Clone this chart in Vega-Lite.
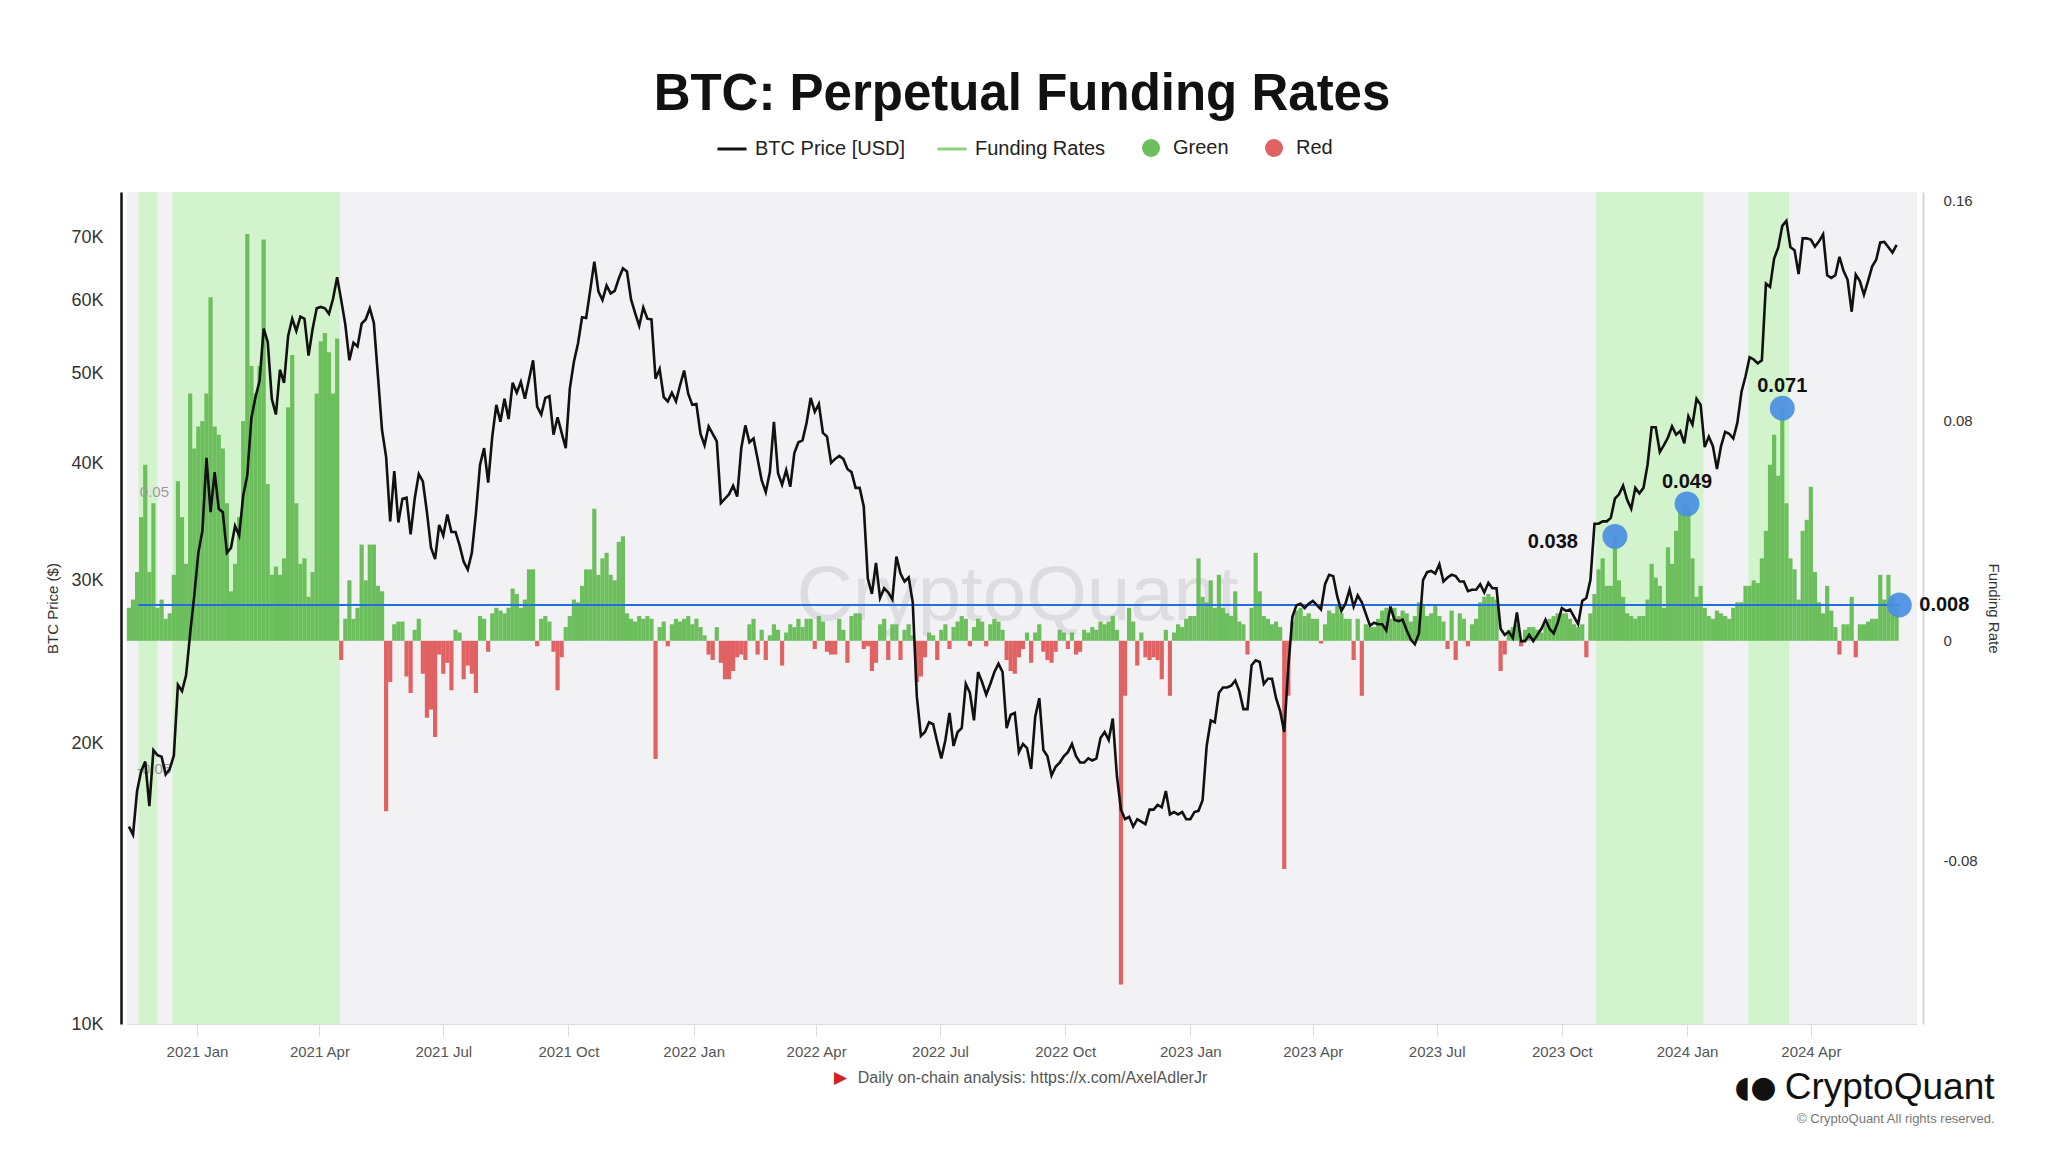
{
  "$schema": "https://vega.github.io/schema/vega-lite/v6.json",
  "width": 1790,
  "height": 832,
  "autosize": {"type": "none"},
  "padding": {"left": 127, "top": 192, "right": 131, "bottom": 128},
  "background": "#ffffff",
  "config": {
    "font": "Liberation Sans",
    "view": {"stroke": null, "fill": "#f2f2f4"},
    "axis": {"grid": false}
  },
  "title": {"text": "BTC: Perpetual Funding Rates", "fontSize": 51, "fontWeight": "bold", "color": "#111111", "anchor": "middle", "frame": "group", "offset": 12, "font": "Liberation Sans"},
  "datasets": {
    "ts": [
{"d":"2020-11-12","p":16300,"f":0.012},{"d":"2020-11-15","p":15980,"f":0.015},{"d":"2020-11-18","p":17800,"f":0.025},{"d":"2020-11-21","p":18700,"f":0.045},{"d":"2020-11-24","p":19150,"f":0.064},{"d":"2020-11-27","p":17150,"f":0.025},{"d":"2020-11-30","p":19700,"f":0.05},
{"d":"2020-12-03","p":19450,"f":0.012},{"d":"2020-12-06","p":19380,"f":0.015},{"d":"2020-12-09","p":18550,"f":0.008},{"d":"2020-12-12","p":18800,"f":0.01},{"d":"2020-12-15","p":19430,"f":0.024},{"d":"2020-12-18","p":23150,"f":0.058},{"d":"2020-12-21","p":22800,"f":0.045},{"d":"2020-12-24","p":23700,"f":0.028},{"d":"2020-12-27","p":26300,"f":0.09},{"d":"2020-12-30","p":28850,"f":0.07},
{"d":"2021-01-02","p":32100,"f":0.078},{"d":"2021-01-05","p":33900,"f":0.08},{"d":"2021-01-08","p":40600,"f":0.09},{"d":"2021-01-11","p":35500,"f":0.125},{"d":"2021-01-14","p":39200,"f":0.078},{"d":"2021-01-17","p":35800,"f":0.075},{"d":"2021-01-20","p":35500,"f":0.07},{"d":"2021-01-23","p":32100,"f":0.05},{"d":"2021-01-26","p":32500,"f":0.018},{"d":"2021-01-29","p":34300,"f":0.028},
{"d":"2021-02-01","p":33500,"f":0.045},{"d":"2021-02-04","p":37000,"f":0.08},{"d":"2021-02-07","p":38900,"f":0.148},{"d":"2021-02-10","p":44800,"f":0.1},{"d":"2021-02-13","p":47200,"f":0.09},{"d":"2021-02-16","p":49100,"f":0.1},{"d":"2021-02-19","p":55900,"f":0.146},{"d":"2021-02-22","p":54100,"f":0.057},{"d":"2021-02-25","p":47000,"f":0.024},{"d":"2021-02-28","p":45200,"f":0.027},
{"d":"2021-03-03","p":50500,"f":0.024},{"d":"2021-03-06","p":48900,"f":0.03},{"d":"2021-03-09","p":54900,"f":0.085},{"d":"2021-03-12","p":57300,"f":0.104},{"d":"2021-03-15","p":55600,"f":0.05},{"d":"2021-03-18","p":57600,"f":0.028},{"d":"2021-03-21","p":57300,"f":0.03},{"d":"2021-03-24","p":52300,"f":0.016},{"d":"2021-03-27","p":55900,"f":0.025},{"d":"2021-03-30","p":58800,"f":0.09},
{"d":"2021-04-02","p":59000,"f":0.109},{"d":"2021-04-05","p":58800,"f":0.112},{"d":"2021-04-08","p":58000,"f":0.105},{"d":"2021-04-11","p":60200,"f":0.09},{"d":"2021-04-14","p":63500,"f":0.11},{"d":"2021-04-17","p":60000,"f":-0.007},{"d":"2021-04-20","p":56500,"f":0.008},{"d":"2021-04-23","p":51700,"f":0.022},{"d":"2021-04-26","p":54000,"f":0.008},{"d":"2021-04-29","p":53500,"f":0.012},
{"d":"2021-05-02","p":56600,"f":0.035},{"d":"2021-05-05","p":57200,"f":0.022},{"d":"2021-05-08","p":58800,"f":0.035},{"d":"2021-05-11","p":56700,"f":0.035},{"d":"2021-05-14","p":49700,"f":0.02},{"d":"2021-05-17","p":43500,"f":0.018},{"d":"2021-05-20","p":40700,"f":-0.062},{"d":"2021-05-23","p":34700,"f":-0.015},{"d":"2021-05-26","p":39300,"f":0.006},{"d":"2021-05-29","p":34600,"f":0.007},
{"d":"2021-06-01","p":36700,"f":0.007},{"d":"2021-06-04","p":36800,"f":-0.013},{"d":"2021-06-07","p":33600,"f":-0.019},{"d":"2021-06-10","p":36700,"f":0.004},{"d":"2021-06-13","p":39000,"f":0.008},{"d":"2021-06-16","p":38300,"f":-0.012},{"d":"2021-06-19","p":35500,"f":-0.028},{"d":"2021-06-22","p":32500,"f":-0.025},{"d":"2021-06-25","p":31600,"f":-0.035},{"d":"2021-06-28","p":34400,"f":-0.005},
{"d":"2021-07-01","p":33500,"f":-0.012},{"d":"2021-07-04","p":35300,"f":-0.008},{"d":"2021-07-07","p":33800,"f":-0.018},{"d":"2021-07-10","p":33800,"f":0.004},{"d":"2021-07-13","p":32700,"f":0.003},{"d":"2021-07-16","p":31400,"f":-0.014},{"d":"2021-07-19","p":30800,"f":-0.009},{"d":"2021-07-22","p":32100,"f":-0.012},{"d":"2021-07-25","p":35400,"f":-0.019},{"d":"2021-07-28","p":39900,"f":0.009},{"d":"2021-07-31","p":41600,"f":0.008},
{"d":"2021-08-03","p":38200,"f":-0.004},{"d":"2021-08-06","p":42800,"f":0.01},{"d":"2021-08-09","p":46300,"f":0.012},{"d":"2021-08-12","p":44400,"f":0.011},{"d":"2021-08-15","p":47000,"f":0.01},{"d":"2021-08-18","p":44700,"f":0.012},{"d":"2021-08-21","p":48900,"f":0.019},{"d":"2021-08-24","p":47700,"f":0.017},{"d":"2021-08-27","p":49000,"f":0.012},{"d":"2021-08-30","p":47000,"f":0.015},
{"d":"2021-09-02","p":49300,"f":0.026},{"d":"2021-09-05","p":51700,"f":0.026},{"d":"2021-09-08","p":46100,"f":-0.002},{"d":"2021-09-11","p":45200,"f":0.008},{"d":"2021-09-14","p":47100,"f":0.009},{"d":"2021-09-17","p":47300,"f":0.007},{"d":"2021-09-20","p":43000,"f":-0.004},{"d":"2021-09-23","p":44900,"f":-0.018},{"d":"2021-09-26","p":43200,"f":-0.006},{"d":"2021-09-29","p":41600,"f":0.005},
{"d":"2021-10-02","p":48200,"f":0.009},{"d":"2021-10-05","p":51500,"f":0.015},{"d":"2021-10-08","p":53900,"f":0.014},{"d":"2021-10-11","p":57500,"f":0.02},{"d":"2021-10-14","p":57400,"f":0.026},{"d":"2021-10-17","p":61500,"f":0.026},{"d":"2021-10-20","p":66000,"f":0.048},{"d":"2021-10-23","p":61300,"f":0.024},{"d":"2021-10-26","p":60000,"f":0.03},{"d":"2021-10-29","p":62200,"f":0.032},
{"d":"2021-11-01","p":61000,"f":0.024},{"d":"2021-11-04","p":61400,"f":0.022},{"d":"2021-11-07","p":63300,"f":0.036},{"d":"2021-11-10","p":64900,"f":0.038},{"d":"2021-11-13","p":64400,"f":0.01},{"d":"2021-11-16","p":60100,"f":0.008},{"d":"2021-11-19","p":58100,"f":0.007},{"d":"2021-11-22","p":56300,"f":0.009},{"d":"2021-11-25","p":58900,"f":0.008},{"d":"2021-11-28","p":57300,"f":0.009},
{"d":"2021-12-01","p":57200,"f":0.008},{"d":"2021-12-04","p":49400,"f":-0.043},{"d":"2021-12-07","p":50600,"f":0.005},{"d":"2021-12-10","p":47200,"f":0.007},{"d":"2021-12-13","p":46700,"f":-0.002},{"d":"2021-12-16","p":47700,"f":0.006},{"d":"2021-12-19","p":46700,"f":0.008},{"d":"2021-12-22","p":48600,"f":0.007},{"d":"2021-12-25","p":50400,"f":0.008},{"d":"2021-12-28","p":47600,"f":0.009},{"d":"2021-12-31","p":46300,"f":0.006},
{"d":"2022-01-03","p":46400,"f":0.008},{"d":"2022-01-06","p":43100,"f":0.005},{"d":"2022-01-09","p":41900,"f":0.002},{"d":"2022-01-12","p":43900,"f":-0.005},{"d":"2022-01-15","p":43100,"f":-0.007},{"d":"2022-01-18","p":42300,"f":0.005},{"d":"2022-01-21","p":36300,"f":-0.008},{"d":"2022-01-24","p":36700,"f":-0.014},{"d":"2022-01-27","p":37100,"f":-0.014},{"d":"2022-01-30","p":37900,"f":-0.011},
{"d":"2022-02-02","p":36900,"f":-0.006},{"d":"2022-02-05","p":41600,"f":-0.005},{"d":"2022-02-08","p":44000,"f":-0.007},{"d":"2022-02-11","p":42200,"f":0.006},{"d":"2022-02-14","p":42600,"f":0.008},{"d":"2022-02-17","p":40500,"f":-0.005},{"d":"2022-02-20","p":38400,"f":0.004},{"d":"2022-02-23","p":37300,"f":-0.007},{"d":"2022-02-26","p":39200,"f":0.002},
{"d":"2022-03-01","p":44400,"f":0.006},{"d":"2022-03-04","p":39100,"f":0.004},{"d":"2022-03-07","p":38000,"f":-0.009},{"d":"2022-03-10","p":39400,"f":0.003},{"d":"2022-03-13","p":37800,"f":0.006},{"d":"2022-03-16","p":41100,"f":0.005},{"d":"2022-03-19","p":42200,"f":0.008},{"d":"2022-03-22","p":42400,"f":0.005},{"d":"2022-03-25","p":44300,"f":0.008},{"d":"2022-03-28","p":47100,"f":0.008},{"d":"2022-03-31","p":45500,"f":-0.003},
{"d":"2022-04-03","p":46400,"f":0.009},{"d":"2022-04-06","p":43200,"f":0.007},{"d":"2022-04-09","p":42800,"f":-0.004},{"d":"2022-04-12","p":40100,"f":-0.005},{"d":"2022-04-15","p":40500,"f":-0.005},{"d":"2022-04-18","p":40800,"f":0.008},{"d":"2022-04-21","p":40500,"f":0.004},{"d":"2022-04-24","p":39500,"f":-0.008},{"d":"2022-04-27","p":39200,"f":0.009},{"d":"2022-04-30","p":37700,"f":0.01},
{"d":"2022-05-03","p":37700,"f":0.01},{"d":"2022-05-06","p":36000,"f":-0.003},{"d":"2022-05-09","p":30100,"f":-0.002},{"d":"2022-05-12","p":29000,"f":-0.011},{"d":"2022-05-15","p":31300,"f":-0.008},{"d":"2022-05-18","p":28700,"f":0.006},{"d":"2022-05-21","p":29400,"f":0.008},{"d":"2022-05-24","p":29100,"f":-0.007},{"d":"2022-05-27","p":28600,"f":0.006},{"d":"2022-05-30","p":31800,"f":0.006},
{"d":"2022-06-02","p":30500,"f":-0.007},{"d":"2022-06-05","p":29900,"f":0.004},{"d":"2022-06-08","p":30200,"f":0.006},{"d":"2022-06-11","p":28400,"f":0.002},{"d":"2022-06-14","p":22500,"f":-0.015},{"d":"2022-06-17","p":20400,"f":-0.013},{"d":"2022-06-20","p":20600,"f":-0.006},{"d":"2022-06-23","p":21100,"f":0.003},{"d":"2022-06-26","p":21000,"f":0.002},{"d":"2022-06-29","p":20100,"f":-0.007},
{"d":"2022-07-02","p":19300,"f":0.004},{"d":"2022-07-05","p":20200,"f":0.006},{"d":"2022-07-08","p":21600,"f":-0.003},{"d":"2022-07-11","p":19900,"f":0.005},{"d":"2022-07-14","p":20600,"f":0.007},{"d":"2022-07-17","p":20800,"f":0.009},{"d":"2022-07-20","p":23200,"f":0.008},{"d":"2022-07-23","p":22700,"f":-0.002},{"d":"2022-07-26","p":21200,"f":0.005},{"d":"2022-07-29","p":23900,"f":0.008},
{"d":"2022-08-01","p":23300,"f":0.007},{"d":"2022-08-04","p":22600,"f":-0.002},{"d":"2022-08-07","p":23200,"f":0.006},{"d":"2022-08-10","p":23900,"f":0.008},{"d":"2022-08-13","p":24400,"f":0.007},{"d":"2022-08-16","p":23900,"f":0.004},{"d":"2022-08-19","p":20800,"f":-0.007},{"d":"2022-08-22","p":21500,"f":-0.011},{"d":"2022-08-25","p":21600,"f":-0.012},{"d":"2022-08-28","p":19600,"f":-0.006},{"d":"2022-08-31","p":20000,"f":-0.003},
{"d":"2022-09-03","p":19800,"f":0.003},{"d":"2022-09-06","p":18800,"f":-0.008},{"d":"2022-09-09","p":21400,"f":0.003},{"d":"2022-09-12","p":22400,"f":0.006},{"d":"2022-09-15","p":19700,"f":-0.004},{"d":"2022-09-18","p":19400,"f":-0.007},{"d":"2022-09-21","p":18500,"f":-0.008},{"d":"2022-09-24","p":18900,"f":-0.004},{"d":"2022-09-27","p":19100,"f":0.004},{"d":"2022-09-30","p":19400,"f":0.003},
{"d":"2022-10-03","p":19600,"f":-0.003},{"d":"2022-10-06","p":20000,"f":0.003},{"d":"2022-10-09","p":19400,"f":-0.005},{"d":"2022-10-12","p":19100,"f":-0.004},{"d":"2022-10-15","p":19100,"f":0.004},{"d":"2022-10-18","p":19300,"f":0.003},{"d":"2022-10-21","p":19200,"f":0.005},{"d":"2022-10-24","p":19300,"f":0.004},{"d":"2022-10-27","p":20300,"f":0.007},{"d":"2022-10-30","p":20600,"f":0.006},
{"d":"2022-11-02","p":20200,"f":0.007},{"d":"2022-11-05","p":21300,"f":0.009},{"d":"2022-11-08","p":18500,"f":0.004},{"d":"2022-11-11","p":17000,"f":-0.125},{"d":"2022-11-14","p":16600,"f":-0.02},{"d":"2022-11-17","p":16700,"f":0.012},{"d":"2022-11-20","p":16300,"f":0.007},{"d":"2022-11-23","p":16600,"f":-0.009},{"d":"2022-11-26","p":16500,"f":0.003},{"d":"2022-11-29","p":16400,"f":-0.006},
{"d":"2022-12-02","p":17000,"f":-0.007},{"d":"2022-12-05","p":17000,"f":-0.006},{"d":"2022-12-08","p":17200,"f":-0.007},{"d":"2022-12-11","p":17100,"f":-0.014},{"d":"2022-12-14","p":17800,"f":0.004},{"d":"2022-12-17","p":16800,"f":-0.02},{"d":"2022-12-20","p":16900,"f":0.003},{"d":"2022-12-23","p":16800,"f":0.006},{"d":"2022-12-26","p":16900,"f":0.005},{"d":"2022-12-29","p":16600,"f":0.008},
{"d":"2023-01-01","p":16600,"f":0.009},{"d":"2023-01-04","p":16900,"f":0.009},{"d":"2023-01-07","p":16950,"f":0.03},{"d":"2023-01-10","p":17400,"f":0.016},{"d":"2023-01-13","p":19900,"f":0.014},{"d":"2023-01-16","p":21200,"f":0.022},{"d":"2023-01-19","p":21100,"f":0.012},{"d":"2023-01-22","p":22700,"f":0.024},{"d":"2023-01-25","p":23000,"f":0.012},{"d":"2023-01-28","p":23000,"f":0.01},{"d":"2023-01-31","p":23100,"f":0.009},
{"d":"2023-02-03","p":23400,"f":0.018},{"d":"2023-02-06","p":22800,"f":0.007},{"d":"2023-02-09","p":21800,"f":0.006},{"d":"2023-02-12","p":21800,"f":-0.005},{"d":"2023-02-15","p":24300,"f":0.012},{"d":"2023-02-18","p":24600,"f":0.032},{"d":"2023-02-21","p":24500,"f":0.018},{"d":"2023-02-24","p":23200,"f":0.009},{"d":"2023-02-27","p":23500,"f":0.008},
{"d":"2023-03-02","p":23500,"f":0.006},{"d":"2023-03-05","p":22400,"f":0.007},{"d":"2023-03-08","p":21700,"f":0.005},{"d":"2023-03-11","p":20600,"f":-0.083},{"d":"2023-03-14","p":24200,"f":-0.02},{"d":"2023-03-17","p":27400,"f":0.007},{"d":"2023-03-20","p":28200,"f":0.011},{"d":"2023-03-23","p":28300,"f":0.012},{"d":"2023-03-26","p":28000,"f":0.009},{"d":"2023-03-29","p":28300,"f":0.01},
{"d":"2023-04-01","p":28500,"f":0.008},{"d":"2023-04-04","p":28200,"f":0.008},{"d":"2023-04-07","p":27900,"f":-0.001},{"d":"2023-04-10","p":29700,"f":0.006},{"d":"2023-04-13","p":30400,"f":0.011},{"d":"2023-04-16","p":30300,"f":0.01},{"d":"2023-04-19","p":28800,"f":0.013},{"d":"2023-04-22","p":27800,"f":0.01},{"d":"2023-04-25","p":28300,"f":0.008},{"d":"2023-04-28","p":29300,"f":0.008},
{"d":"2023-05-01","p":28100,"f":-0.007},{"d":"2023-05-04","p":28900,"f":0.008},{"d":"2023-05-07","p":28400,"f":-0.02},{"d":"2023-05-10","p":27600,"f":0.006},{"d":"2023-05-13","p":26800,"f":0.005},{"d":"2023-05-16","p":27000,"f":0.005},{"d":"2023-05-19","p":26900,"f":0.008},{"d":"2023-05-22","p":26900,"f":0.011},{"d":"2023-05-25","p":26500,"f":0.012},{"d":"2023-05-28","p":28100,"f":0.008},{"d":"2023-05-31","p":27200,"f":0.012},
{"d":"2023-06-03","p":27100,"f":0.009},{"d":"2023-06-06","p":27200,"f":0.011},{"d":"2023-06-09","p":26500,"f":0.01},{"d":"2023-06-12","p":25900,"f":0.007},{"d":"2023-06-15","p":25600,"f":0.009},{"d":"2023-06-18","p":26300,"f":0.014},{"d":"2023-06-21","p":30000,"f":0.013},{"d":"2023-06-24","p":30600,"f":0.009},{"d":"2023-06-27","p":30700,"f":0.01},{"d":"2023-06-30","p":30500,"f":0.013},
{"d":"2023-07-03","p":31200,"f":0.009},{"d":"2023-07-06","p":29900,"f":0.007},{"d":"2023-07-09","p":30200,"f":-0.003},{"d":"2023-07-12","p":30400,"f":0.011},{"d":"2023-07-15","p":30300,"f":-0.007},{"d":"2023-07-18","p":29900,"f":0.01},{"d":"2023-07-21","p":29900,"f":0.008},{"d":"2023-07-24","p":29200,"f":-0.002},{"d":"2023-07-27","p":29300,"f":0.006},{"d":"2023-07-30","p":29300,"f":0.008},
{"d":"2023-08-02","p":29700,"f":0.014},{"d":"2023-08-05","p":29100,"f":0.016},{"d":"2023-08-08","p":29800,"f":0.017},{"d":"2023-08-11","p":29400,"f":0.016},{"d":"2023-08-14","p":29400,"f":0.015},{"d":"2023-08-17","p":26600,"f":-0.011},{"d":"2023-08-20","p":26200,"f":-0.005},{"d":"2023-08-23","p":26400,"f":0.004},{"d":"2023-08-26","p":26000,"f":0.005},{"d":"2023-08-29","p":27700,"f":0.006},
{"d":"2023-09-01","p":25800,"f":-0.002},{"d":"2023-09-04","p":25800,"f":0.004},{"d":"2023-09-07","p":26200,"f":0.005},{"d":"2023-09-10","p":25800,"f":0.005},{"d":"2023-09-13","p":26200,"f":0.004},{"d":"2023-09-16","p":26600,"f":0.003},{"d":"2023-09-19","p":27200,"f":0.006},{"d":"2023-09-22","p":26600,"f":0.008},{"d":"2023-09-25","p":26300,"f":0.009},{"d":"2023-09-28","p":27000,"f":0.01},
{"d":"2023-10-01","p":28000,"f":0.01},{"d":"2023-10-04","p":27800,"f":0.01},{"d":"2023-10-07","p":27900,"f":0.008},{"d":"2023-10-10","p":27400,"f":0.006},{"d":"2023-10-13","p":26900,"f":0.005},{"d":"2023-10-16","p":28500,"f":0.006},{"d":"2023-10-19","p":28700,"f":-0.006},{"d":"2023-10-22","p":30000,"f":0.01},{"d":"2023-10-25","p":34500,"f":0.017},{"d":"2023-10-28","p":34500,"f":0.026},{"d":"2023-10-31","p":34700,"f":0.03},
{"d":"2023-11-03","p":34700,"f":0.02},{"d":"2023-11-06","p":35000,"f":0.02},{"d":"2023-11-09","p":36700,"f":0.038},{"d":"2023-11-12","p":37100,"f":0.022},{"d":"2023-11-15","p":37900,"f":0.016},{"d":"2023-11-18","p":36600,"f":0.01},{"d":"2023-11-21","p":35800,"f":0.009},{"d":"2023-11-24","p":37700,"f":0.008},{"d":"2023-11-27","p":37200,"f":0.009},{"d":"2023-11-30","p":37700,"f":0.009},
{"d":"2023-12-03","p":39900,"f":0.015},{"d":"2023-12-06","p":43800,"f":0.028},{"d":"2023-12-09","p":43800,"f":0.023},{"d":"2023-12-12","p":41200,"f":0.02},{"d":"2023-12-15","p":41900,"f":0.012},{"d":"2023-12-18","p":42700,"f":0.034},{"d":"2023-12-21","p":43900,"f":0.028},{"d":"2023-12-24","p":43000,"f":0.04},{"d":"2023-12-27","p":43400,"f":0.047},{"d":"2023-12-30","p":42100,"f":0.05},
{"d":"2024-01-02","p":45000,"f":0.049},{"d":"2024-01-05","p":44100,"f":0.03},{"d":"2024-01-08","p":47000,"f":0.016},{"d":"2024-01-11","p":46300,"f":0.02},{"d":"2024-01-14","p":41700,"f":0.012},{"d":"2024-01-17","p":42800,"f":0.009},{"d":"2024-01-20","p":41800,"f":0.008},{"d":"2024-01-23","p":39500,"f":0.011},{"d":"2024-01-26","p":41800,"f":0.01},{"d":"2024-01-29","p":43300,"f":0.009},
{"d":"2024-02-01","p":43100,"f":0.008},{"d":"2024-02-04","p":42600,"f":0.012},{"d":"2024-02-07","p":44300,"f":0.014},{"d":"2024-02-10","p":47800,"f":0.014},{"d":"2024-02-13","p":49700,"f":0.02},{"d":"2024-02-16","p":52100,"f":0.02},{"d":"2024-02-19","p":51800,"f":0.022},{"d":"2024-02-22","p":51300,"f":0.021},{"d":"2024-02-25","p":51700,"f":0.03},{"d":"2024-02-28","p":62500,"f":0.04},
{"d":"2024-03-02","p":62000,"f":0.064},{"d":"2024-03-05","p":66500,"f":0.075},{"d":"2024-03-08","p":68300,"f":0.06},{"d":"2024-03-11","p":72100,"f":0.085},{"d":"2024-03-14","p":73000,"f":0.05},{"d":"2024-03-17","p":68400,"f":0.03},{"d":"2024-03-20","p":67900,"f":0.026},{"d":"2024-03-23","p":64000,"f":0.015},{"d":"2024-03-26","p":69900,"f":0.04},{"d":"2024-03-29","p":69900,"f":0.044},
{"d":"2024-04-01","p":69700,"f":0.056},{"d":"2024-04-04","p":68500,"f":0.025},{"d":"2024-04-07","p":69400,"f":0.014},{"d":"2024-04-10","p":70600,"f":0.01},{"d":"2024-04-13","p":63800,"f":0.02},{"d":"2024-04-16","p":63400,"f":0.011},{"d":"2024-04-19","p":63800,"f":0.005},{"d":"2024-04-22","p":66800,"f":-0.005},{"d":"2024-04-25","p":64500,"f":0.006},{"d":"2024-04-28","p":63100,"f":0.006},
{"d":"2024-05-01","p":58300,"f":0.016},{"d":"2024-05-04","p":63900,"f":-0.006},{"d":"2024-05-07","p":62900,"f":0.006},{"d":"2024-05-10","p":60800,"f":0.006},{"d":"2024-05-13","p":62900,"f":0.007},{"d":"2024-05-16","p":65200,"f":0.008},{"d":"2024-05-19","p":66300,"f":0.008},{"d":"2024-05-22","p":69200,"f":0.024},{"d":"2024-05-25","p":69300,"f":0.015},{"d":"2024-05-28","p":68400,"f":0.024},{"d":"2024-05-31","p":67500,"f":0.016},
{"d":"2024-06-03","p":68800,"f":0.012}
    ],
    "bands": [
      {"s": "2020-11-19", "e": "2020-12-03", "top": 0.16327, "bottom": -0.13941},
      {"s": "2020-12-14", "e": "2021-04-16", "top": 0.16327, "bottom": -0.13941},
      {"s": "2023-10-26", "e": "2024-01-13", "top": 0.16327, "bottom": -0.13941},
      {"s": "2024-02-15", "e": "2024-03-16", "top": 0.16327, "bottom": -0.13941}
    ],
    "notes": [
      {"d": "2023-11-09", "v": 0.038, "t": "0.038"},
      {"d": "2024-01-01", "v": 0.0498, "t": "0.049"},
      {"d": "2024-03-11", "v": 0.0846, "t": "0.071"},
      {"d": "2024-06-05", "v": 0.013, "t": "0.008"}
    ],
    "blue": [
      {"s": "2020-11-19", "e": "2024-06-05", "v": 0.013}
    ],
    "texts": [
      {"d": "2022-08-27", "v": 0.016, "t": "CryptoQuant", "k": "wm"},
      {"d": "2020-11-20", "v": 0.054, "t": "0.05", "k": "lv"},
      {"d": "2020-11-18", "v": -0.0467, "t": "-0.05", "k": "lv"}
    ]
  },
  "layer": [
    {
      "data": {"name": "bands"},
      "mark": {"type": "rect", "color": "#d3f3cc"},
      "encoding": {
        "x": {"field": "s", "type": "temporal", "scale": {"type": "utc", "domain": [1605016800000, 1718668800000], "padding": 0},
          "axis": {"orient": "bottom", "labels": false, "ticks": false, "domain": false, "grid": false, "tickCount": 1, "title": "▶", "titleX": 713, "titleY": 53, "titleAlign": "center", "titleBaseline": "middle", "titleFont": "DejaVu Sans", "titleFontSize": 17, "titleFontWeight": "normal", "titleColor": "#d42020"}},
        "x2": {"field": "e"},
        "y": {"field": "top", "type": "quantitative", "scale": {"domain": [-0.13941, 0.16327], "nice": false, "zero": false}, "axis": null},
        "y2": {"field": "bottom"}
      }
    },
    {
      "data": {"name": "texts"},
      "transform": [{"filter": "datum.k === 'wm'"}],
      "mark": {"type": "text", "fontSize": 78, "color": "#dcdce1", "align": "center", "baseline": "middle"},
      "encoding": {
        "x": {"field": "d", "type": "temporal", "axis": null},
        "y": {"field": "v", "type": "quantitative", "scale": {"domain": [-0.13941, 0.16327], "nice": false, "zero": false}, "axis": null},
        "text": {"field": "t"}
      }
    },
    {
      "data": {"name": "ts"},
      "transform": [{"filter": "datum.f >= 0"}],
      "mark": {"type": "bar", "width": 4.2},
      "encoding": {
        "x": {"field": "d", "type": "temporal",
          "axis": {"orient": "bottom", "labels": false, "ticks": false, "domain": false, "grid": false, "tickCount": 1, "title": "© CryptoQuant All rights reserved.", "titleX": 1867, "titleY": 94, "titleAlign": "right", "titleBaseline": "middle", "titleFontSize": 13, "titleFontWeight": "normal", "titleColor": "#777777"}},
        "y": {"field": "f", "type": "quantitative",
          "scale": {"domain": [-0.13941, 0.16327], "nice": false, "zero": false},
          "axis": {"orient": "right", "values": [-0.08, 0, 0.08, 0.16], "labelExpr": "datum.value === 0 ? '0' : (datum.value < 0 ? '-' + format(-datum.value, '.2f') : format(datum.value, '.2f'))", "ticks": false, "domain": true, "domainColor": "#d6d6d6", "domainWidth": 2, "offset": 6, "labelPadding": 20, "labelFontSize": 15, "labelColor": "#333333", "labelFlush": false, "title": "Funding Rate", "titleFontSize": 15, "titleFontWeight": "normal", "titleColor": "#333333", "titlePadding": 8, "titleAngle": 90, "grid": false}},
        "y2": {"datum": 0},
        "fill": {"datum": "Green", "type": "nominal",
          "scale": {"domain": ["Green", "Red"], "range": ["#6cbf5c", "#e06262"]},
          "legend": {
            "title": null, "orient": "none", "legendX": 1014, "legendY": -54, "direction": "horizontal", "padding": 0,
            "labelFont": "Liberation Sans", "labelFontSize": 20, "labelColor": "#222222", "labelOffset": 12, "columnPadding": 35,
            "symbolType": "circle", "symbolSize": 324, "symbolStrokeWidth": 0
          }
        }
      }
    },
    {
      "data": {"name": "ts"},
      "transform": [{"filter": "datum.f < 0"}],
      "mark": {"type": "bar", "width": 4.2},
      "encoding": {
        "x": {"field": "d", "type": "temporal", "axis": null},
        "y": {"field": "f", "type": "quantitative", "scale": {"domain": [-0.13941, 0.16327], "nice": false, "zero": false}, "axis": null},
        "y2": {"datum": 0},
        "fill": {"datum": "Red", "type": "nominal"}
      }
    },
    {
      "mark": {"type": "rule", "color": "#8fba8f", "strokeDash": [7, 5], "strokeWidth": 1.3},
      "encoding": {"y": {"datum": 0.05, "type": "quantitative", "scale": {"domain": [-0.13941, 0.16327], "nice": false, "zero": false}, "axis": null}}
    },
    {
      "mark": {"type": "rule", "color": "#d98a8a", "strokeDash": [7, 5], "strokeWidth": 1.3},
      "encoding": {"y": {"datum": -0.05, "type": "quantitative", "scale": {"domain": [-0.13941, 0.16327], "nice": false, "zero": false}, "axis": null}}
    },
    {
      "mark": {"type": "rule", "color": "#222222", "strokeDash": [6, 5], "strokeWidth": 1.6},
      "encoding": {"y": {"datum": 0, "type": "quantitative", "scale": {"domain": [-0.13941, 0.16327], "nice": false, "zero": false}, "axis": null}}
    },
    {
      "data": {"name": "texts"},
      "transform": [{"filter": "datum.k === 'lv'"}],
      "mark": {"type": "text", "fontSize": 15, "color": "#9a9a9a", "align": "left", "baseline": "middle"},
      "encoding": {
        "x": {"field": "d", "type": "temporal", "axis": null},
        "y": {"field": "v", "type": "quantitative", "scale": {"domain": [-0.13941, 0.16327], "nice": false, "zero": false}, "axis": null},
        "text": {"field": "t"}
      }
    },
    {
      "data": {"name": "blue"},
      "mark": {"type": "rule", "color": "#1f6fe0", "strokeWidth": 2},
      "encoding": {
        "x": {"field": "s", "type": "temporal",
          "axis": {"orient": "bottom", "labels": false, "ticks": false, "domain": false, "grid": false, "tickCount": 1, "title": "◖●", "titleX": 1649, "titleY": 63, "titleAlign": "right", "titleBaseline": "middle", "titleFont": "DejaVu Sans", "titleFontSize": 30, "titleFontWeight": "normal", "titleColor": "#111111"}},
        "x2": {"field": "e"},
        "y": {"field": "v", "type": "quantitative", "scale": {"domain": [-0.13941, 0.16327], "nice": false, "zero": false}, "axis": null}
      }
    },
    {
      "data": {"name": "notes"},
      "mark": {"type": "point", "filled": true, "size": 620, "color": "#4a8fe3", "opacity": 0.92},
      "encoding": {
        "x": {"field": "d", "type": "temporal",
          "axis": {"orient": "bottom", "labels": false, "ticks": false, "domain": false, "grid": false, "tickCount": 1, "title": "CryptoQuant", "titleX": 1867, "titleY": 63, "titleAlign": "right", "titleBaseline": "middle", "titleFontSize": 37, "titleFontWeight": "normal", "titleColor": "#111111"}},
        "y": {"field": "v", "type": "quantitative", "scale": {"domain": [-0.13941, 0.16327], "nice": false, "zero": false}, "axis": null}
      }
    },
    {
      "data": {"name": "notes"},
      "transform": [{"filter": "datum.t === '0.038'"}],
      "mark": {"type": "text", "fontSize": 20, "fontWeight": "bold", "color": "#111111", "align": "right", "baseline": "middle", "dx": -37, "dy": 6},
      "encoding": {
        "x": {"field": "d", "type": "temporal", "axis": null},
        "y": {"field": "v", "type": "quantitative", "scale": {"domain": [-0.13941, 0.16327], "nice": false, "zero": false}, "axis": null},
        "text": {"field": "t"}
      }
    },
    {
      "data": {"name": "notes"},
      "transform": [{"filter": "datum.t === '0.049' || datum.t === '0.071'"}],
      "mark": {"type": "text", "fontSize": 20, "fontWeight": "bold", "color": "#111111", "align": "center", "baseline": "middle", "dy": -22},
      "encoding": {
        "x": {"field": "d", "type": "temporal", "axis": null},
        "y": {"field": "v", "type": "quantitative", "scale": {"domain": [-0.13941, 0.16327], "nice": false, "zero": false}, "axis": null},
        "text": {"field": "t"}
      }
    },
    {
      "data": {"name": "notes"},
      "transform": [{"filter": "datum.t === '0.008'"}],
      "mark": {"type": "text", "fontSize": 20, "fontWeight": "bold", "color": "#111111", "align": "left", "baseline": "middle", "dx": 20},
      "encoding": {
        "x": {"field": "d", "type": "temporal", "axis": null},
        "y": {"field": "v", "type": "quantitative", "scale": {"domain": [-0.13941, 0.16327], "nice": false, "zero": false}, "axis": null},
        "text": {"field": "t"}
      }
    },
    {
      "data": {"name": "ts"},
      "mark": {"type": "line", "strokeWidth": 2.6, "interpolate": "linear"},
      "encoding": {
        "x": {"field": "d", "type": "temporal",
          "scale": {"type": "utc", "domain": [1605016800000, 1718668800000], "padding": 0},
          "axis": {"orient": "bottom", "format": "%Y %b", "values": [1609459200000, 1617235200000, 1625097600000, 1633046400000, 1640995200000, 1648771200000, 1656633600000, 1664582400000, 1672531200000, 1680307200000, 1688169600000, 1696118400000, 1704067200000, 1711929600000], "labelFontSize": 15, "labelColor": "#555555", "labelPadding": 8, "labelFlush": false, "labelOverlap": false, "ticks": true, "tickSize": 12, "tickColor": "#dcdcdc", "domain": true, "domainColor": "#dcdcdc", "grid": false,
            "title": "Daily on-chain analysis: https://x.com/AxelAdlerJr", "titleX": 905, "titleY": 53, "titleAlign": "center", "titleBaseline": "middle", "titleFontSize": 16, "titleFontWeight": "normal", "titleColor": "#555555"}},
        "y": {"field": "p", "type": "quantitative",
          "scale": {"type": "log", "domain": [10000, 78410], "nice": false},
          "axis": {"orient": "left", "values": [10000, 20000, 30000, 40000, 50000, 60000, 70000], "labelExpr": "datum.value / 1000 + 'K'", "ticks": false, "domain": true, "domainColor": "#111111", "domainWidth": 2.5, "offset": 6, "labelPadding": 18, "labelFontSize": 18, "labelColor": "#333333", "labelFlush": false, "title": "BTC Price ($)", "titleFontSize": 15, "titleFontWeight": "normal", "titleColor": "#333333", "titlePadding": 10, "grid": false}},
        "stroke": {"datum": "BTC Price [USD]", "type": "nominal",
          "scale": {"domain": ["BTC Price [USD]", "Funding Rates"], "range": ["#111111", "#8fd07f"]},
          "legend": {
            "title": null, "orient": "none", "legendX": 589, "legendY": -59, "direction": "horizontal", "padding": 0,
            "labelFont": "Liberation Sans", "labelFontSize": 20, "labelColor": "#222222", "labelOffset": 7, "columnPadding": 25,
            "symbolType": "stroke", "symbolSize": 841, "symbolStrokeWidth": 3
          }
        }
      }
    }
  ],
  "resolve": {"scale": {"y": "independent"}, "axis": {"x": "independent"}}
}
